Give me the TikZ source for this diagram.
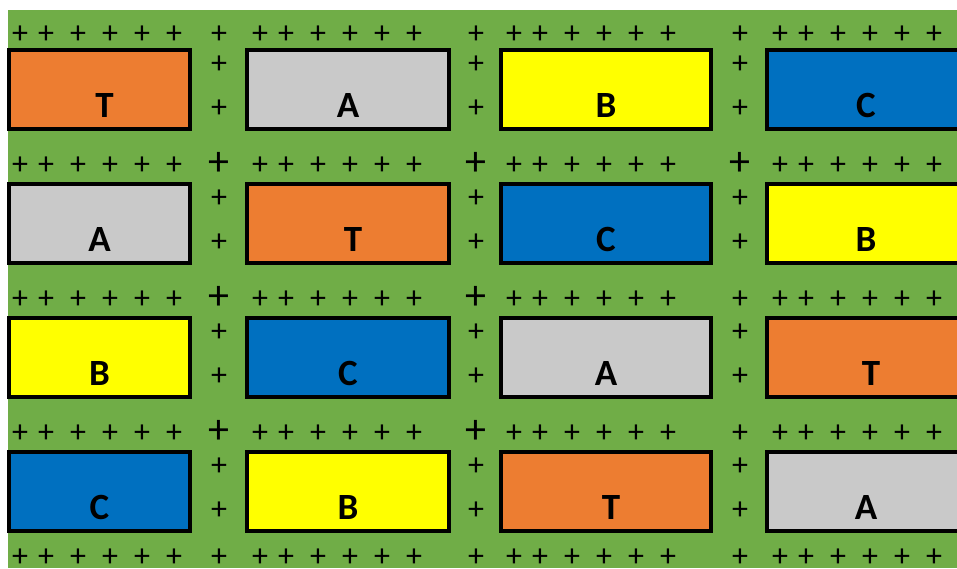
\documentclass[tikz,border=0pt]{standalone}
\usepackage{fontspec}
\setmainfont{Carlito}
\definecolor{tgreen}{HTML}{70AD47}
\definecolor{torange}{HTML}{ED7D31}
\definecolor{tgray}{HTML}{C9C9C9}
\definecolor{tyellow}{HTML}{FFFF00}
\definecolor{tblue}{HTML}{0070C0}
\begin{document}
\begin{tikzpicture}[x=1pt,y=-1pt,
  tile/.style={draw=black,line width=4pt,outer sep=0pt,inner sep=0pt,anchor=north west,minimum height=79pt},
  w1/.style={minimum width=181pt},
  w2/.style={minimum width=202pt},
  w3/.style={minimum width=210pt},
  w4/.style={minimum width=198pt},
  lbl/.style={font=\bfseries\fontsize{37}{37}\selectfont,anchor=base,inner sep=0pt},
  tl/.style={xshift=5pt},
  sp/.style={font=\fontsize{32}{32}\selectfont,inner sep=0pt,yshift=-3pt},
  bp/.style={font=\fontsize{42}{42}\selectfont,inner sep=0pt,yshift=-3pt}]
\useasboundingbox (0,0) rectangle (957,568);
\clip (0,0) rectangle (957,568);
\fill[tgreen] (8,10) rectangle (957,568);
% row 1
\node[tile,w1,fill=torange] (b11) at (9,50) {};
\node[tile,w2,fill=tgray]   (b12) at (247,50) {};
\node[tile,w3,fill=tyellow] (b13) at (501,50) {};
\node[tile,w4,fill=tblue]   (b14) at (767,50) {};
% row 2
\node[tile,w1,fill=tgray]   (b21) at (9,184) {};
\node[tile,w2,fill=torange] (b22) at (247,184) {};
\node[tile,w3,fill=tblue]   (b23) at (501,184) {};
\node[tile,w4,fill=tyellow] (b24) at (767,184) {};
% row 3
\node[tile,w1,fill=tyellow] (b31) at (9,318) {};
\node[tile,w2,fill=tblue]   (b32) at (247,318) {};
\node[tile,w3,fill=tgray]   (b33) at (501,318) {};
\node[tile,w4,fill=torange] (b34) at (767,318) {};
% row 4
\node[tile,w1,fill=tblue]   (b41) at (9,452) {};
\node[tile,w2,fill=tyellow] (b42) at (247,452) {};
\node[tile,w3,fill=torange] (b43) at (501,452) {};
\node[tile,w4,fill=tgray]   (b44) at (767,452) {};
% labels
\node[lbl,tl] (l11) at ([yshift=12pt]b11.south) {T};
\node[lbl] (l12) at ([yshift=12pt]b12.south) {A};
\node[lbl] (l13) at ([yshift=12pt]b13.south) {B};
\node[lbl] (l14) at ([yshift=12pt]b14.south) {C};
\node[lbl] (l21) at ([yshift=12pt]b21.south) {A};
\node[lbl,tl] (l22) at ([yshift=12pt]b22.south) {T};
\node[lbl] (l23) at ([yshift=12pt]b23.south) {C};
\node[lbl] (l24) at ([yshift=12pt]b24.south) {B};
\node[lbl] (l31) at ([yshift=12pt]b31.south) {B};
\node[lbl] (l32) at ([yshift=12pt]b32.south) {C};
\node[lbl] (l33) at ([yshift=12pt]b33.south) {A};
\node[lbl,tl] (l34) at ([yshift=12pt]b34.south) {T};
\node[lbl] (l41) at ([yshift=12pt]b41.south) {C};
\node[lbl] (l42) at ([yshift=12pt]b42.south) {B};
\node[lbl,tl] (l43) at ([yshift=12pt]b43.south) {T};
\node[lbl] (l44) at ([yshift=12pt]b44.south) {A};
% horizontal plus rows
\foreach \px in {20,46,78,110,142,174,260,286,318,350,382,414,514,540,572,604,636,668,780,806,838,870,902,934}
  \foreach \py in {32,163,297,431,555}
    \node[sp] (h-\px-\py) at (\px,\py) {+};
% gap pluses on the plus rows
\foreach \px in {219,476,740}
  \foreach \py in {32,555}
    \node[sp] (g-\px-\py) at (\px,\py) {+};
\foreach \px in {219,476,740}
  \node[bp] (g-\px-163) at (\px,161) {+};
\foreach \px in {219,476}
  \foreach \py in {295,429}
    \node[bp] (g-\px-\py) at (\px,\py) {+};
\foreach \py in {297,431}
  \node[sp] (g-740-\py) at (740,\py) {+};
% vertical gap pluses beside the tiles
\foreach \px in {219,476,740}
  \foreach \py in {62,106,196,240,330,374,464,508}
    \node[sp] (v-\px-\py) at (\px,\py) {+};
\end{tikzpicture}
\end{document}
